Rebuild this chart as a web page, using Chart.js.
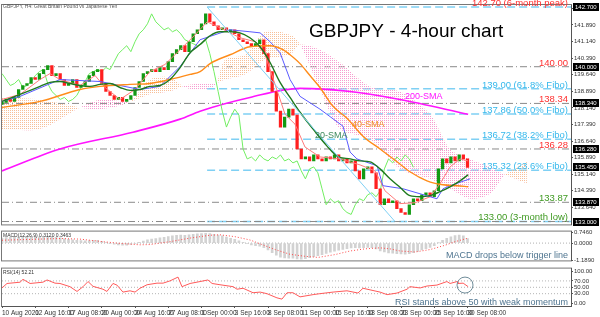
<!DOCTYPE html>
<html>
<head>
<meta charset="utf-8">
<script src="https://cdn.jsdelivr.net/npm/chart.js@4"></script>
<style>
html, body { margin: 0; padding: 0; background: #fff; }
#wrap { position: relative; width: 600px; height: 317px; overflow: hidden; }
canvas { position: absolute; left: 0; }
</style>
</head>
<body>
<div id="wrap">
  <canvas id="main" width="600" height="229" style="top:0"></canvas>
  <canvas id="macd" width="600" height="38" style="top:227px"></canvas>
  <canvas id="rsi" width="600" height="53" style="top:264px"></canvas>
</div>
<script>
// x axis is counted in 4-hour bars, one candle is drawn for every two bars
const dateLabels = ['10 Aug 2020', '12 Aug 16:00', '17 Aug 08:00', '20 Aug 00:00', '24 Aug 16:00',
  '27 Aug 08:00', '1 Sep 00:00', '3 Sep 16:00', '8 Sep 08:00', '11 Sep 00:00', '15 Sep 16:00',
  '18 Sep 08:00', '23 Sep 00:00', '25 Sep 16:00', '30 Sep 08:00'];
const labelStep = 16;
const candleStep = 2;
const chikouShift = 26;
const xMax = 273.8;

const firstOpen = 138.30;
const closes = [
  138.39, 138.52, 138.43, 138.61, 138.97, 139.15, 139.24, 139.51, 139.42, 139.69,
  139.87, 140.05, 139.60, 139.69, 139.42, 139.15, 139.24, 139.42, 139.06, 139.15,
  139.33, 139.60, 139.78, 139.87, 139.24, 138.88, 138.70, 138.52, 138.61, 138.43,
  138.52, 138.70, 139.06, 139.33, 139.69, 139.78, 139.87, 139.78, 139.96, 139.87,
  140.23, 140.59, 140.77, 140.95, 140.68, 141.13, 141.49, 141.67, 141.94, 142.39,
  142.03, 141.85, 141.67, 141.76, 141.58, 141.67, 141.49, 141.22, 141.13, 141.04,
  140.95, 141.04, 141.22, 140.59, 139.78, 138.88, 137.99, 137.27, 137.72, 138.08,
  137.81, 136.28, 135.83, 135.92, 135.74, 136.01, 135.83, 135.74, 135.92, 135.83,
  136.01, 135.74, 135.83, 135.65, 135.74, 135.29, 134.93, 135.38, 135.47, 135.20,
  134.48, 133.76, 134.03, 133.85, 133.94, 133.58, 133.41, 133.32, 133.76, 134.03,
  133.94, 134.21, 134.30, 134.12, 134.39, 135.38, 135.83, 135.65, 135.92, 135.74,
  136.01, 135.83, 135.45
];

// indicator lines as [bar, price]
const sma20 = [[0,138.43],[8.7,138.75],[18.3,139.11],[23.1,139.29],[27.9,139.33],[32.7,139.24],[37.5,139.15],
  [42.3,139.11],[47.2,139.20],[52,139.24],[56.8,139.06],[61.6,138.93],[66.4,138.97],[71.2,139.11],[76,139.15],
  [80.8,139.42],[85.7,139.96],[90.5,140.63],[95.3,141.00],[100.1,141.40],[104.9,141.58],[109.7,141.58],
  [114.5,141.53],[119.3,141.31],[124.2,140.90],[129,140.19],[133.8,139.29],[138.6,138.61],[143.4,137.94],
  [149.7,137.18],[156.4,136.41],[161.2,135.96],[167.5,135.83],[172.3,135.74],[177.1,135.70],[181.9,135.38],
  [186.7,134.93],[191.5,134.55],[196.3,134.17],[201.2,134.12],[206,134.17],[210.8,134.35],[215.6,134.57],
  [220.4,134.84],[224.3,135.11]];
const sma40 = [[0,138.16],[18.3,138.43],[37.5,138.97],[47.2,139.11],[61.6,139.20],[71.2,139.24],[80.8,139.42],
  [90.5,139.65],[95.3,139.78],[100.1,140.14],[109.7,140.54],[119.3,140.90],[129,140.95],[135.2,140.77],
  [138.6,140.54],[143.4,140.14],[148.2,139.60],[153,139.06],[159.3,138.21],[166,137.67],[173.7,136.86],
  [181.9,136.28],[190.1,135.70],[196.3,135.25],[204.5,134.84],[212.2,134.66],[219,134.62],[224.3,134.57]];
const sma200 = [[0,135.29],[27.9,136.28],[63,137.04],[85.7,137.63],[95.3,137.99],[119.3,138.61],[143.4,139.02],
  [167.5,138.88],[191.5,138.52],[224.3,137.85]];
const kijun = [[0,138.43],[8.7,138.66],[27.9,139.42],[47.2,139.33],[66.4,138.97],[76,139.11],[85.7,140.01],
  [95.3,141.22],[109.7,141.67],[119.3,141.58],[124.2,141.53],[129,141.13],[133.8,140.63],[138.6,139.42],
  [143.4,138.66],[153,138.08],[164.1,137.31],[167.5,136.14],[170.8,135.83],[180.5,135.52],[183.3,134.62],
  [193,134.48],[209.3,134.03],[212.2,134.48],[215.6,134.62],[225.2,134.93]];
const tenkan = [[0,138.52],[8.7,138.75],[18.3,139.42],[23.1,139.69],[27.9,139.42],[37.5,139.15],[44.8,139.60],
  [49.6,139.06],[56.8,138.52],[64,138.97],[71.2,139.78],[78.4,140.10],[85.7,140.77],[92.9,141.44],[98.7,142.03],
  [104.9,141.76],[114.5,141.31],[121.8,141.13],[126.6,140.54],[131.4,139.20],[136.2,137.85],[141,137.40],
  [145.8,136.37],[153,135.92],[162.7,135.83],[172.3,135.56],[179.5,135.29],[184.3,134.39],[191.5,133.81],
  [198.8,133.85],[206,134.12],[210.8,134.71],[215.6,135.47],[220.4,135.83],[224.3,135.74]];
// ichimoku cloud edges, same bars for both spans
const cloudBars = [0,18.3,37.5,47.2,61.6,71.2,80.8,88.1,95.3,102.5,107.3,116.9,126.6,138.6,143.4,153,162.7,
  177.1,191.5,206,215.6,225.2,234.8,242.1,252.6];
const spanA = [138.61,138.52,138.16,138.08,138.43,139.42,139.51,139.06,138.97,139.15,140.32,140.54,141.58,
  141.44,141.00,138.97,137.18,136.73,135.38,134.93,134.48,134.03,134.26,135.11,135.70];
const spanB = [137.18,137.18,138.16,138.52,138.43,138.75,138.88,139.15,139.24,139.24,139.42,139.65,140.32,
  140.54,141.00,140.77,140.19,139.11,138.88,137.85,136.28,135.83,135.47,135.11,134.71];

const grayLevels = [140.00, 138.34, 136.28, 133.87, 133.00];
const fiboLevels = [142.70, 139.00, 137.86, 136.72, 135.32, 133.00];
const fiboStart = 98.7;
const trend = [[98.7, 142.70], [189.1, 133.00]];
const levelLabels = [
  ['142.70 (6-month peak)', 142.70, '#ff3030'],
  ['140.00', 140.00, '#ff3030'],
  ['139.00 (61.8% Fibo)', 139.00, '#35b8ec'],
  ['138.34', 138.34, '#ff3030'],
  ['137.86 (50.0% Fibo)', 137.86, '#35b8ec'],
  ['136.72 (38.2% Fibo)', 136.72, '#35b8ec'],
  ['136.28', 136.28, '#ff3030'],
  ['135.32 (23.6% Fibo)', 135.32, '#35b8ec'],
  ['133.87', 133.87, '#3f9a22'],
  ['133.00 (3-month low)', 133.00, '#3f9a22']
];
const boxLevels = [142.70, 140.00, 138.34, 136.28, 135.45, 133.87, 133.00];
const mainTicks = [142.64, 141.89, 141.14, 140.39, 139.64, 138.89, 138.14, 137.39, 136.64, 135.89, 135.14,
  134.39, 133.64];

// MACD histogram, one value per candle, and the signal line as [bar, value]
const macdMain = [
  0.35, 0.38, 0.40, 0.42, 0.44, 0.45, 0.46, 0.46, 0.45, 0.44, 0.46, 0.47, 0.45, 0.40, 0.36,
  0.30, 0.26, 0.22, 0.20, 0.18, 0.16, 0.18, 0.20, 0.20, 0.12, 0.04, -0.02,
  -0.08, -0.12, -0.15, -0.14, -0.10, -0.04, 0.05,
  0.15, 0.22, 0.28, 0.32, 0.36, 0.40, 0.45, 0.50, 0.54, 0.56, 0.55, 0.58, 0.62, 0.64, 0.66,
  0.68, 0.66, 0.62, 0.56, 0.50, 0.42, 0.34, 0.26,
  0.16, 0.06, -0.04, -0.12, -0.18, -0.22, -0.32,
  -0.48, -0.66, -0.84, -0.98, -1.04, -1.06, -1.05, -1.10, -1.12,
  -1.08, -1.02, -0.95, -0.88, -0.80, -0.72, -0.64, -0.56, -0.50, -0.44, -0.38, -0.34,
  -0.32, -0.34, -0.32, -0.30, -0.32, -0.40, -0.55, -0.62,
  -0.68, -0.70, -0.74, -0.76, -0.78, -0.74, -0.66, -0.58,
  -0.48, -0.38, -0.30, -0.18, 0.02, 0.20, 0.34, 0.44, 0.52, 0.56, 0.50, 0.31
];
const macdSignal = [[0,0.20],[13.5,0.26],[27.9,0.32],[37.5,0.28],[47.2,0.12],[56.8,-0.02],[66.4,-0.12],
  [71.2,-0.10],[80.8,0.10],[90.5,0.35],[100.1,0.55],[104.9,0.58],[112.1,0.45],[119.3,0.22],[124.2,-0.05],
  [131.4,-0.45],[138.6,-0.78],[145.8,-0.92],[152.1,-1.00],[160.3,-0.80],[167.5,-0.55],[174.7,-0.40],
  [181.9,-0.33],[186.7,-0.40],[191.5,-0.55],[198.8,-0.62],[206,-0.45],[213.2,-0.15],[218,0.10],[224.3,0.35]];
const macdTicks = [0.746, 0, -1.189];

const rsi = [[0,48],[2.4,62],[8.7,66],[10.1,75],[13.5,62],[19.7,66],[21.7,73],[25.5,63],[27.9,62],[32.7,52],
  [36.1,37],[39,52],[41.4,68],[43.8,53],[48.6,44],[50.5,37],[53.4,62],[55.3,57],[58.2,35],[61.6,39],[64,35],
  [66.4,47],[69.8,58],[74.6,63],[77.5,63],[80.8,70],[84.7,82],[86.6,52],[90.5,62],[95.3,68],[99.1,73],
  [101.1,62],[104.9,58],[111.2,52],[113.1,44],[116,47],[120.8,33],[124.2,35],[127.5,30],[132.3,17],[134.7,13],
  [137.2,33],[140,33],[143.4,20],[149.7,27],[153,30],[159.3,35],[166,39],[171.3,32],[173.7,47],[177.1,42],
  [181.9,35],[185.3,27],[190.1,32],[194.9,44],[196.3,52],[201.2,48],[204.5,54],[209.3,57],[214.1,68],
  [215.6,62],[219,68],[219.4,62],[221.9,63],[224.3,52]];
const rsiLevels = [70, 50, 30];
const rsiTicks = [100, 70, 50, 30, 0];
const rsiCircle = [222.8, 57];

const FONT = '"Liberation Sans", Arial, sans-serif';
const pts = arr => arr.map(p => ({ x: p[0], y: p[1] }));

function dotPattern(color) {
  const c = document.createElement('canvas');
  c.width = 2; c.height = 2;
  const g = c.getContext('2d');
  g.fillStyle = color;
  g.fillRect(0, 0, 1, 1);
  return g.createPattern(c, 'repeat');
}

function rightAxis(min, max, ticks, digits) {
  return {
    position: 'right', min: min, max: max,
    afterFit: s => { s.width = 29; },
    afterBuildTicks: s => { s.ticks = ticks.map(v => ({ value: v })); },
    grid: { drawOnChartArea: false, tickLength: 2, color: '#555' },
    border: { display: true, color: '#555' },
    ticks: { autoSkip: false, padding: 1, color: '#333', font: { size: 6, family: FONT },
      callback: v => v.toFixed(digits) }
  };
}
function hiddenX() {
  return { type: 'linear', min: 0, max: xMax, offset: false, display: false };
}
const frame = {
  id: 'frame',
  beforeDraw(chart) {
    const { ctx, chartArea: a } = chart;
    ctx.save();
    ctx.strokeStyle = '#777';
    ctx.lineWidth = 1;
    ctx.strokeRect(a.left - 0.5, a.top - 0.5, a.right - a.left + 1, a.bottom - a.top + 1);
    ctx.restore();
  }
};
const baseOpts = { responsive: false, animation: false, events: [],
  plugins: { legend: { display: false }, tooltip: { enabled: false } } };

// ---------- main price panel ----------
const candles = closes.map((c, i) => ({ x: i * candleStep, y: [i === 0 ? firstOpen : closes[i - 1], c] }));
const chikou = closes.map((c, i) => ({ x: i * candleStep - chikouShift, y: c }));
const peach = dotPattern('#f7bf98');
const pink = dotPattern('#f79ccf');

const line = (data, color, width, order, extra) => Object.assign({
  type: 'line', data: data, borderColor: color, borderWidth: width, pointRadius: 0, order: order, fill: false
}, extra || {});

const mainSets = [
  line(pts([trend[0], trend[1]]), '#7fd0f4', 1, 1),
  line(pts(sma20), '#1f7a1f', 1.4, 2, { cubicInterpolationMode: 'monotone' }),
  line(pts(sma40), '#ff8c1a', 1.4, 3, { cubicInterpolationMode: 'monotone' }),
  line(pts(kijun), '#5a5aff', 1, 4),
  line(pts(tenkan), '#ff7a7a', 1, 5),
  { type: 'bar', data: candles, order: 6, grouped: false, barThickness: 2.6, minBarLength: 1, borderWidth: 0,
    backgroundColor: c => (c.raw && c.raw.y[1] >= c.raw.y[0]) ? '#139a13' : '#ff1f1f' },
  line(chikou, '#72ee62', 1, 7),
  line(pts(sma200), '#ff14ff', 1.6, 8, { cubicInterpolationMode: 'monotone' }),
  line(cloudBars.map((b, i) => ({ x: b, y: spanA[i] })), 'rgba(0,0,0,0)', 0, 9,
    { fill: { target: '+1', above: peach, below: pink }, tension: 0.3 }),
  line(cloudBars.map((b, i) => ({ x: b, y: spanB[i] })), 'rgba(0,0,0,0)', 0, 10, { tension: 0.3 })
];
grayLevels.forEach(v => mainSets.push(line([{ x: 0, y: v }, { x: xMax, y: v }], '#8a8a8a', 1, 11,
  { borderDash: [7, 3, 1, 3] })));
fiboLevels.forEach(v => mainSets.push(line([{ x: fiboStart, y: v }, { x: xMax, y: v }], '#7fd0f4', 1.6, 11,
  { borderDash: [8, 4] })));

const mainNotes = {
  id: 'mainNotes',
  afterDraw(chart) {
    const { ctx, chartArea: a, scales: { x, y } } = chart;
    ctx.save();
    ctx.font = '9.5px ' + FONT;
    ctx.textAlign = 'right';
    ctx.textBaseline = 'bottom';
    levelLabels.forEach(([t, v, c]) => {
      ctx.fillStyle = c;
      ctx.fillText(t, a.right - 3, y.getPixelForValue(v) + 1);
    });
    ctx.textAlign = 'left';
    ctx.textBaseline = 'middle';
    ctx.font = '9px ' + FONT;
    [['200-SMA', 193.9, 138.66, '#ff14ff'], ['40-SMA', 168.4, 137.40, '#f08c1e'],
     ['20-SMA', 150.6, 136.91, '#3d8a5c']].forEach(([t, bx, v, c]) => {
      ctx.fillStyle = c;
      ctx.fillText(t, x.getPixelForValue(bx), y.getPixelForValue(v));
    });
    ctx.fillStyle = '#000';
    ctx.font = '19px ' + FONT;
    ctx.textBaseline = 'alphabetic';
    ctx.fillText('GBPJPY - 4-hour chart', 309, 37);
    ctx.fillStyle = '#555';
    ctx.font = '5px ' + FONT;
    ctx.textBaseline = 'middle';
    ctx.fillText('GBPJPY, H4: Great Britain Pound vs Japanese Yen', 3, a.top + 2);
    // boxed price labels on the axis
    ctx.font = '6px ' + FONT;
    boxLevels.forEach(v => {
      const py = Math.round(y.getPixelForValue(v));
      ctx.fillStyle = '#000';
      ctx.fillRect(a.right + 2, py - 4, 26, 8);
      ctx.fillStyle = '#fff';
      ctx.fillText(v.toFixed(3), a.right + 4, py);
    });
    ctx.restore();
  }
};

new Chart(document.getElementById('main'), {
  type: 'line',
  data: { datasets: mainSets },
  options: Object.assign({}, baseOpts, {
    layout: { padding: { left: 2, top: 5, right: 0, bottom: 3 } },
    scales: { x: hiddenX(), y: rightAxis(132.87, 142.79, mainTicks, 3) }
  }),
  plugins: [frame, mainNotes]
});

// ---------- MACD panel ----------
const macdNotes = {
  id: 'macdNotes',
  afterDraw(chart) {
    const { ctx, chartArea: a } = chart;
    ctx.save();
    ctx.fillStyle = '#333';
    ctx.font = '5px ' + FONT;
    ctx.textBaseline = 'middle';
    ctx.fillText('MACD(12,26,9) 0.3120 0.3463', 3, a.top + 4);
    ctx.fillStyle = '#4f7590';
    ctx.font = '9px ' + FONT;
    ctx.textAlign = 'right';
    ctx.fillText('MACD drops below trigger line', 568, a.top + 24);
    ctx.restore();
  }
};
new Chart(document.getElementById('macd'), {
  type: 'line',
  data: { datasets: [
    line(pts(macdSignal), '#ff4a4a', 1, 1, { borderDash: [1, 2] }),
    { type: 'bar', data: macdMain.map((v, i) => ({ x: i * candleStep, y: v })), order: 2, grouped: false,
      barThickness: 2, backgroundColor: '#d2d2d2', borderWidth: 0 },
    line([{ x: 0, y: 0 }, { x: xMax, y: 0 }], '#b0b0b0', 1, 3, { borderDash: [1, 2] })
  ] },
  options: Object.assign({}, baseOpts, {
    layout: { padding: { left: 2, top: 2, right: 0, bottom: 1 } },
    scales: { x: hiddenX(), y: rightAxis(-1.207, 0.803, macdTicks, 4) }
  }),
  plugins: [frame, macdNotes]
});

// ---------- RSI panel ----------
const rsiNotes = {
  id: 'rsiNotes',
  afterDraw(chart) {
    const { ctx, chartArea: a, scales: { x, y } } = chart;
    ctx.save();
    ctx.fillStyle = '#333';
    ctx.font = '5px ' + FONT;
    ctx.textBaseline = 'middle';
    ctx.fillText('RSI(14) 52.21', 3, a.top + 4);
    ctx.fillStyle = '#4f7590';
    ctx.font = '9px ' + FONT;
    ctx.textAlign = 'right';
    ctx.fillText('RSI stands above 50 with weak momentum', 568, a.top + 34);
    ctx.strokeStyle = '#6f8c99';
    ctx.lineWidth = 1;
    ctx.beginPath();
    ctx.arc(x.getPixelForValue(rsiCircle[0]), y.getPixelForValue(rsiCircle[1]), 8, 0, Math.PI * 2);
    ctx.stroke();
    ctx.restore();
  }
};
const rsiSets = [line(pts(rsi), '#ff5a5a', 1, 1)];
rsiLevels.forEach(v => rsiSets.push(line([{ x: 0, y: v }, { x: xMax, y: v }], '#b5b5b5', 1, 2,
  { borderDash: [1, 2] })));
new Chart(document.getElementById('rsi'), {
  type: 'line',
  data: { datasets: rsiSets },
  options: Object.assign({}, baseOpts, {
    layout: { padding: { left: 2, top: 1, right: 0, bottom: 0 } },
    scales: {
      x: {
        type: 'linear', min: 0, max: xMax, offset: false,
        afterFit: s => { s.height = 11; },
        afterBuildTicks: s => { s.ticks = dateLabels.map((_, k) => ({ value: k * labelStep })); },
        grid: { drawOnChartArea: false, tickLength: 2, color: '#555' },
        border: { display: true, color: '#555' },
        ticks: { autoSkip: false, maxRotation: 0, align: 'start', padding: 1, color: '#333',
          font: { size: 6.5, family: FONT }, callback: v => dateLabels[Math.round(v / labelStep)] }
      },
      y: rightAxis(-8.6, 108.6, rsiTicks, 2)
    }
  }),
  plugins: [frame, rsiNotes]
});
</script>
</body>
</html>
